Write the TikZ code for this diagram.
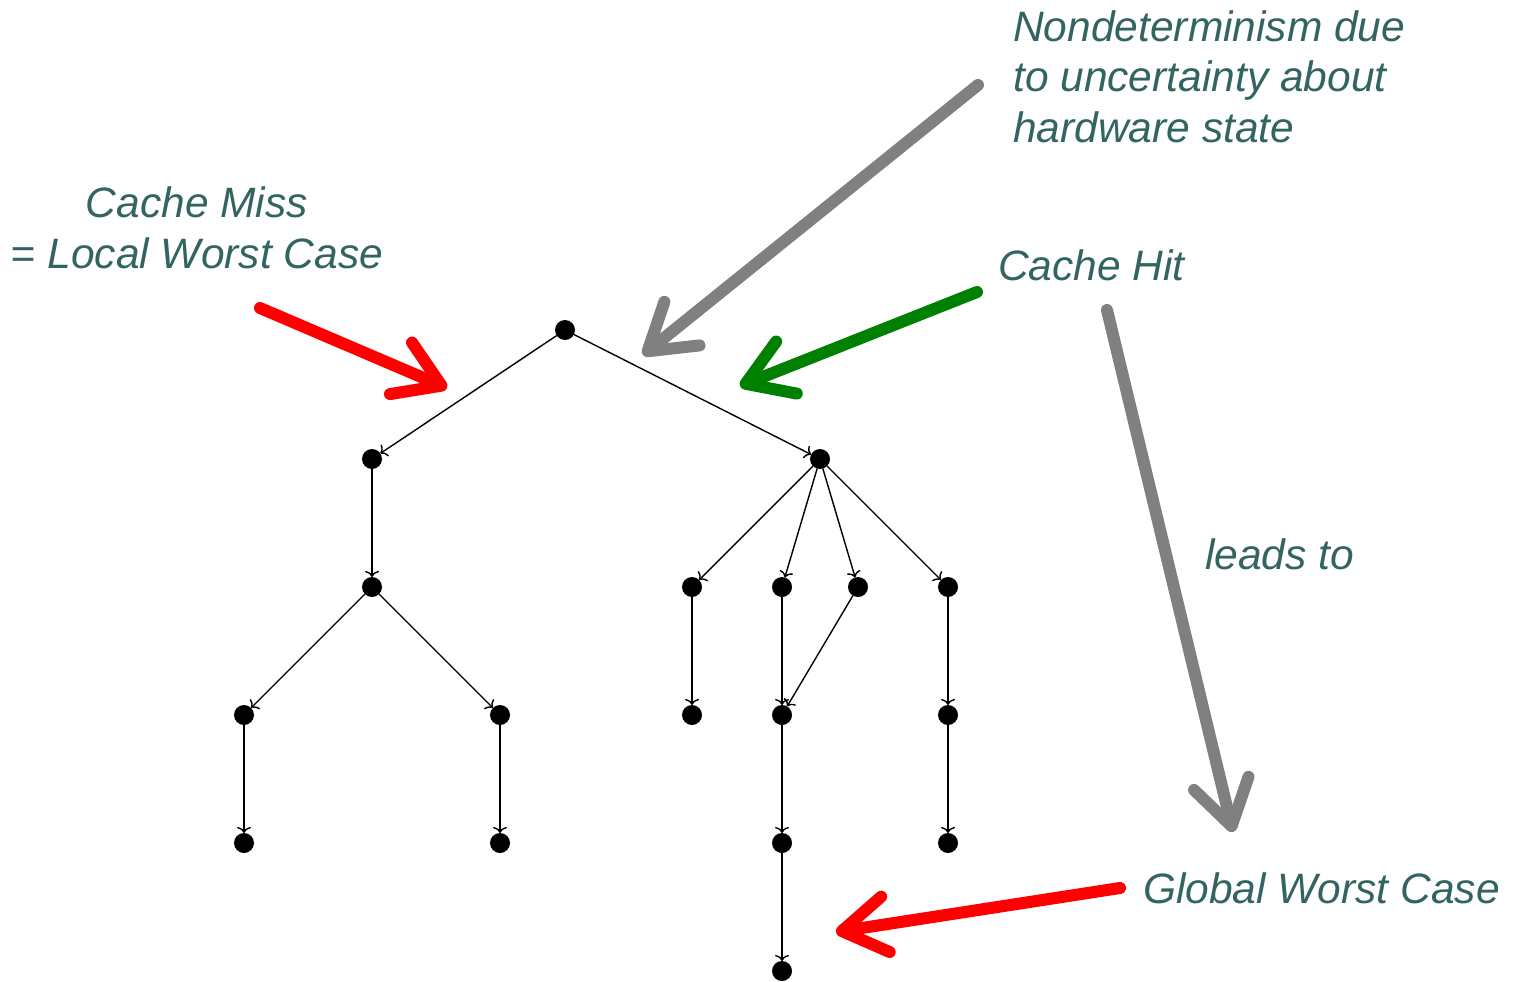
\documentclass[tikz,border=0pt]{standalone}
\usepackage{fontspec}
\setmainfont{Liberation Sans}
\usepackage{tikz}
\usetikzlibrary{arrows.meta,positioning}
\definecolor{noteteal}{RGB}{50,100,98}
\definecolor{missred}{RGB}{255,0,0}
\definecolor{hitgreen}{RGB}{0,128,0}
\definecolor{leadgray}{RGB}{128,128,128}
\newcommand{\dotsize}{20pt}
\newcommand{\bigw}{12pt}

\begin{document}
\begin{tikzpicture}[x=1pt,y=-1pt]
	\tikzset{
		state/.style = {circle, fill=black, minimum size=\dotsize, inner sep=0pt, outer sep=0pt},
		succ/.style = {line width=1.4pt, -{To[length=6pt,width=14pt]}},
		note/.style = {text=noteteal, font=\fontsize{42.5}{50.5}\selectfont\itshape, inner sep=0pt},
		bigarrow/.style = {line width=\bigw, line cap=round, -{Straight Barb[round,length=44pt,width=56pt]}}
	}
	\useasboundingbox (0,0) rectangle (1521,982);
	%\draw[help lines,step=100] (0,0) grid (1521,982);

	% execution tree
	\node[state] (n0) at (565,330) {};
	\node[state] (n1) at (372,459) {};
	\node[state] (n2) at (820,459) {};
	\node[state] (n3) at (372,587) {};
	\node[state] (n4) at (692,587) {};
	\node[state] (n5) at (782,587) {};
	\node[state] (n6) at (858,587) {};
	\node[state] (n7) at (948,587) {};
	\node[state] (n8) at (244,715) {};
	\node[state] (n9) at (500,715) {};
	\node[state] (n10) at (692,715) {};
	\node[state] (n11) at (782,715) {};
	\node[state] (n12) at (948,715) {};
	\node[state] (n13) at (244,843) {};
	\node[state] (n14) at (500,843) {};
	\node[state] (n15) at (782,843) {};
	\node[state] (n16) at (948,843) {};
	\node[state] (n17) at (782,971) {};

	\foreach \a/\b in {n0/n1,n0/n2,n1/n3,n2/n4,n2/n5,n2/n6,n2/n7,
		n3/n8,n3/n9,n4/n10,n5/n11,n6/n11,n7/n12,
		n8/n13,n9/n14,n11/n15,n12/n16,n15/n17}
		\draw[succ] (\a) -- (\b);

	% labels (base = last line)
	\node[note, align=center, anchor=base] (miss) at (197,268) {Cache Miss\\= Local Worst Case};
	\node[note, align=left, anchor=base west] (nondet) at (1013,142) {Nondeterminism due\\to uncertainty about\\hardware state};
	\node[note, anchor=base west] (hit) at (998,280) {Cache Hit};
	\node[note, anchor=base west] (leads) at (1205,569) {leads to};
	\node[note, anchor=base west] (global) at (1143,903) {Global Worst Case};

	% arrow ends
	\coordinate (missS) at (260,308);
	\coordinate (missT) at (447,388);
	\coordinate (nondetS) at (978,85);
	\coordinate (nondetT) at (643,355);
	\coordinate (hitS) at (977,292);
	\coordinate (hitT) at (740,386);
	\coordinate (leadsS) at (1107,310);
	\coordinate (leadsT) at (1233,832);
	\coordinate (globalS) at (1120,888);
	\coordinate (globalT) at (836,932);

	\draw[bigarrow, missred] (missS) -- (missT);
	\draw[bigarrow, leadgray] (nondetS) -- (nondetT);
	\draw[bigarrow, hitgreen] (hitS) -- (hitT);
	\draw[bigarrow, leadgray] (leadsS) -- (leadsT);
	\draw[bigarrow, missred] (globalS) -- (globalT);
\end{tikzpicture}
\end{document}
